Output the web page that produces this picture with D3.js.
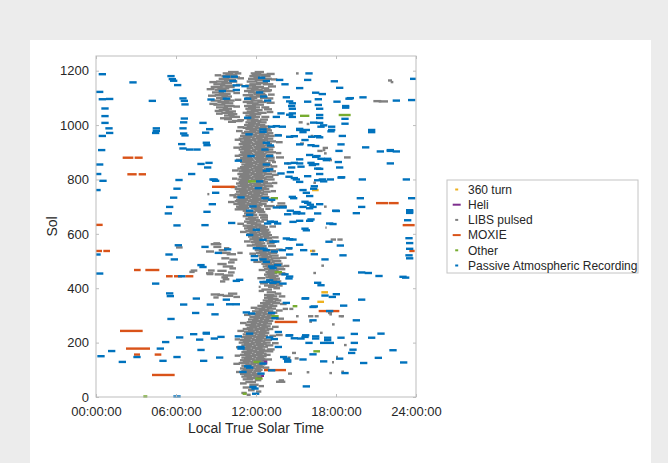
<!DOCTYPE html>
<html>
<head>
<meta charset="utf-8">
<script src="https://cdn.jsdelivr.net/npm/d3@7"></script>
<style>
  body { margin: 0; background: #ececec; }
  #chart { position: absolute; left: 0; top: 0; }
  text { font-family: "Liberation Sans", Arial, Helvetica, sans-serif; fill: #262626; }
</style>
</head>
<body>
<div id="chart"></div>
<script>
// each record: [sol, start hour, end hour] in local true solar time
const turn360 = [[761,16.2,16.7],[537,16.05,16.45],[385,16.9,17.4],[350,16.6,17.1]];

const heli = [[132,12.35,12.85],[124,12.4,12.85],[78,12.1,12.6],[73,12.05,12.45]];

const libs = [
  // central cloud, upper two lobes
  [1195,9.9,10.7],[1195,11.9,12.6],[1190,9.5,10.3],[1190,10.4,10.9],[1190,11.6,12.4],
  [1185,9.7,10.6],[1185,11.7,12.9],[1180,9.4,10.2],[1180,11.5,12.3],[1180,12.4,13.1],
  [1175,9.8,10.8],[1175,11.8,12.6],[1170,9.2,10.0],[1170,11.4,12.2],[1170,12.5,13.2],
  [1165,9.6,10.5],[1165,11.9,12.7],[1160,9.0,9.9],[1160,10.0,10.6],[1160,11.3,12.1],
  [1155,9.4,10.2],[1155,12.0,12.9],[1150,8.8,9.7],[1150,11.5,12.4],[1150,12.5,13.3],
  [1145,9.3,10.3],[1145,11.2,12.0],[1140,8.6,9.5],[1140,9.7,10.4],[1140,11.7,12.6],
  [1135,9.1,10.0],[1135,11.3,12.2],[1135,12.4,13.0],[1130,8.9,9.8],[1130,11.6,12.5],
  [1125,9.5,10.4],[1125,11.1,11.9],[1125,12.2,13.1],[1120,8.7,9.6],[1120,11.4,12.3],
  [1115,9.2,10.1],[1115,11.8,12.7],[1110,8.9,9.9],[1110,11.0,11.8],[1110,12.0,12.8],
  [1105,9.4,10.2],[1105,11.5,12.4],[1100,9.0,9.8],[1100,11.2,12.1],[1100,12.3,12.9],
  [1095,9.3,10.1],[1095,11.1,11.9],[1090,8.6,9.4],[1090,9.6,10.4],[1090,11.6,12.5],
  [1085,9.1,10.0],[1085,11.0,11.8],[1085,12.1,12.8],[1080,9.4,10.3],[1080,11.3,12.2],
  [1075,8.8,9.7],[1075,11.7,12.6],[1070,9.6,10.4],[1070,11.1,12.0],[1065,9.0,9.9],
  [1065,11.4,12.3],[1065,12.4,13.0],[1060,9.5,10.2],[1060,11.2,12.0],[1055,9.2,10.0],
  [1055,11.6,12.5],[1050,9.7,10.5],[1050,11.3,12.2],[1045,9.4,10.3],[1045,11.0,11.9],
  [1045,12.1,12.8],[1040,9.9,10.6],[1040,11.5,12.4],[1035,9.6,10.4],[1035,11.2,12.0],
  [1030,10.0,10.8],[1030,11.4,12.3],[1030,12.4,13.0],[1025,9.3,10.1],[1025,11.1,11.9],
  [1020,11.3,12.2],[1020,12.3,12.9],[1015,10.2,11.0],[1015,11.6,12.4],[1010,11.2,12.0],
  [1010,12.1,12.8],[1005,11.4,12.3],[1000,11.1,11.9],[1000,12.0,12.7],
  [1183,8.9,9.4],[1172,10.6,11.1],[1158,8.5,9.1],[1148,10.5,11.0],[1132,8.3,8.9],
  [1118,10.3,10.8],[1108,8.4,9.0],[1093,10.4,10.9],[1078,8.5,9.1],[1068,10.3,10.8],
  [1052,8.9,9.5],[1042,9.0,9.5],[1188,12.8,13.4],[1168,13.1,13.6],[1142,12.9,13.5],
  [1128,12.6,13.2],[1112,12.9,13.4],[1098,12.9,13.3],[1082,12.8,13.4],[1058,12.6,13.2],
  [1048,12.8,13.3],[1018,10.6,11.1],[1022,9.6,10.2],[1012,9.9,10.5],
  // central cloud, merged band
  [995,11.3,12.2],[995,12.3,13.0],[990,11.0,11.8],[990,11.9,12.8],[985,11.2,12.1],
  [985,12.2,13.1],[980,11.5,12.4],[980,12.5,13.2],[975,11.1,12.0],[975,12.1,12.9],
  [970,10.9,11.8],[970,11.9,12.7],[970,12.8,13.3],[965,11.2,12.1],[965,12.2,13.0],
  [960,10.8,11.7],[960,11.8,12.6],[960,12.7,13.4],[955,11.0,11.9],[955,12.0,12.9],
  [950,10.7,11.6],[950,11.7,12.5],[950,12.6,13.3],[945,11.1,12.0],[945,12.1,12.9],
  [940,10.8,11.7],[940,11.8,12.7],[940,12.8,13.5],[935,10.9,11.8],[935,11.9,12.8],
  [930,10.7,11.6],[930,11.7,12.6],[930,12.7,13.2],[925,11.0,11.9],[925,12.0,12.8],
  [920,10.8,11.7],[920,11.8,12.7],[920,12.8,13.4],[915,10.9,11.8],[915,11.9,12.9],
  [910,10.7,11.6],[910,11.7,12.5],[910,12.6,13.3],[905,11.1,12.0],[905,12.1,13.0],
  [900,10.8,11.7],[900,11.8,12.6],[900,12.7,13.5],[895,10.9,11.8],[895,11.9,12.8],
  [890,10.7,11.6],[890,11.7,12.7],[890,12.8,13.3],[885,11.0,11.9],[885,12.0,12.9],
  [880,10.8,11.7],[880,11.8,12.6],[880,12.7,13.4],[875,10.9,11.8],[875,11.9,12.9],
  [870,11.0,11.9],[870,12.0,12.8],[870,12.9,13.4],[865,10.8,11.7],[865,11.8,12.7],
  [860,11.2,12.1],[860,12.2,13.1],[855,10.9,11.8],[855,11.9,12.8],[850,11.1,12.0],
  [850,12.1,13.0],[845,10.8,11.7],[845,11.8,12.6],[840,10.6,11.5],[840,11.6,12.5],
  [840,12.6,13.3],[835,10.9,11.8],[835,11.9,12.9],[830,10.7,11.6],[830,11.7,12.6],
  [830,12.7,13.5],[825,11.0,11.9],[825,12.0,12.8],[820,10.6,11.5],[820,11.6,12.5],
  [820,12.6,13.2],[815,10.8,11.7],[815,11.8,12.7],[810,10.7,11.6],[810,11.7,12.6],
  [810,12.7,13.3],[805,10.9,11.8],[805,11.9,12.8],[800,10.6,11.5],[800,11.6,12.5],
  [800,12.6,13.4],[795,10.8,11.7],[795,11.8,12.7],[790,10.7,11.6],[790,12.0,12.9],
  [785,10.5,11.4],[785,11.5,12.4],[785,12.5,13.2],[780,10.8,11.7],[780,11.8,12.7],
  [775,10.6,11.5],[775,11.6,12.5],[775,12.6,13.3],[770,10.9,11.8],[770,11.9,12.8],
  [765,10.4,11.3],[765,11.4,12.3],[765,12.4,13.0],[760,10.7,11.6],[760,11.7,12.6],
  [755,10.5,11.4],[755,11.5,12.4],[755,12.5,13.1],[750,10.8,11.7],[750,11.8,12.6],
  [745,10.4,11.3],[745,11.4,12.3],[745,12.4,12.9],[740,10.6,11.5],[740,11.6,12.5],
  [735,10.3,11.2],[735,11.3,12.2],[735,12.3,13.0],[730,10.7,11.6],[730,11.7,12.5],
  [725,10.5,11.4],[725,11.5,12.4],[720,10.4,11.3],[720,11.4,12.2],[720,12.3,12.9],
  [715,10.6,11.5],[715,11.6,12.4],[712,13.6,14.2],[710,10.3,11.2],[710,11.3,12.1],
  [710,12.2,12.8],[705,10.7,11.6],[705,11.7,12.5],[702,12.6,13.4],[702,13.5,14.3],
  [700,10.5,11.4],[700,11.5,12.3],[695,10.6,11.5],[695,11.6,12.4],[690,10.4,11.3],
  [690,11.8,12.6],[685,11.0,11.8],[685,11.9,12.6],[680,11.2,12.0],[680,12.1,12.7],
  [675,11.1,11.9],[670,11.3,12.1],[670,12.2,12.8],[665,11.0,11.8],[660,11.4,12.2],
  [660,12.3,12.9],[655,11.2,12.0],[650,11.5,12.3],[645,11.1,11.9],[645,12.0,12.6],
  [640,11.3,12.1],[635,11.6,12.4],[630,11.0,11.8],[630,11.9,12.7],[625,11.3,12.1],
  [625,12.2,12.9],[620,11.1,11.9],[620,12.0,12.8],[615,11.4,12.2],[615,12.3,13.0],
  [610,11.2,12.0],[610,12.1,12.9],[605,11.5,12.3],[605,12.4,13.1],[600,11.3,12.1],
  [600,12.2,13.0],[595,11.6,12.4],[595,12.5,13.2],[590,11.4,12.2],[590,12.3,13.0],
  [585,11.7,12.5],[585,12.6,13.2],[580,11.5,12.3],[575,11.8,12.6],[575,12.7,13.3],
  [570,11.6,12.4],[565,11.9,12.7],[565,12.8,13.4],[560,11.7,12.5],[555,12.0,12.8],
  [555,12.9,13.5],[550,11.8,12.6],[545,12.1,12.9],[540,11.9,12.7],[540,12.8,13.5],
  [535,12.2,13.0],[530,12.0,12.8],[530,12.9,13.6],[525,12.3,13.1],[520,12.1,12.9],
  [520,13.0,13.7],[515,12.4,13.2],[510,12.2,13.0],[510,13.1,13.8],[505,12.5,13.3],
  [500,12.3,13.1],[500,13.2,13.9],[495,12.6,13.4],[490,12.4,13.2],[490,13.3,14.0],
  [485,12.7,13.5],[480,12.5,13.3],[480,13.4,14.1],[475,12.8,13.6],[470,12.6,13.4],
  [470,13.5,14.2],[465,12.9,13.7],[460,12.7,13.5],[455,12.8,13.6],[455,13.7,14.2],
  [450,12.6,13.4],[445,12.9,13.7],[440,12.7,13.5],[435,13.0,13.8],[430,12.8,13.6],
  [425,13.1,13.9],[415,13.0,13.8],[410,12.6,13.4],[410,13.5,14.0],[405,12.9,13.6],
  [992,10.6,11.1],[978,10.5,11.0],[963,13.4,13.9],[946,10.4,10.9],[937,13.5,14.0],
  [917,10.3,10.8],[897,13.5,13.9],[887,10.4,10.8],[872,10.5,11.0],[848,13.1,13.6],
  [833,10.2,10.7],[817,13.2,13.7],[803,10.2,10.6],[787,13.2,13.6],[772,10.1,10.6],
  [757,13.1,13.5],[742,10.0,10.5],[727,12.5,13.1],[717,9.9,10.4],[692,12.7,13.1],
  [667,12.4,12.9],[652,12.4,12.9],[637,10.6,11.1],[627,13.0,13.5],[607,10.8,11.3],
  [587,13.2,13.7],[572,11.1,11.6],[557,11.3,11.8],[542,13.5,14.0],[527,11.5,12.0],
  [512,13.8,14.3],[497,11.8,12.4],[482,14.1,14.5],[467,12.2,12.7],[452,13.7,14.3],
  [437,12.1,12.7],[418,12.3,12.9],[400,13.3,13.8],[390,12.2,12.6],[380,13.4,13.9],
  // central cloud, lower
  [395,12.4,13.2],[385,12.8,13.5],[375,12.6,13.4],[370,12.8,13.6],[370,13.7,14.2],
  [365,12.6,13.3],[360,12.9,13.7],[355,12.5,13.3],[355,13.4,13.9],[350,12.7,13.5],
  [345,12.3,13.1],[345,13.2,13.8],[340,12.5,13.3],[335,12.1,12.9],[335,13.0,13.6],
  [330,12.4,13.2],[325,11.9,12.7],[325,12.8,13.5],[320,12.2,13.0],[315,11.7,12.5],
  [315,12.6,13.3],[310,12.0,12.8],[310,12.9,13.6],[305,11.6,12.4],[305,12.5,13.2],
  [300,11.9,12.7],[300,12.8,13.4],[295,11.5,12.3],[295,12.4,13.1],[290,11.8,12.6],
  [290,12.7,13.5],[285,11.4,12.2],[285,12.3,13.0],[280,11.7,12.5],[280,12.6,13.3],
  [275,11.3,12.1],[275,12.2,12.9],[270,11.6,12.4],[270,12.5,13.2],[265,11.2,12.0],
  [265,12.1,12.8],[260,11.5,12.3],[260,12.4,13.1],[255,11.3,12.1],[255,12.2,12.9],
  [250,11.0,11.8],[250,11.9,12.7],[250,12.8,13.3],[245,11.4,12.2],[245,12.3,13.0],
  [240,11.1,11.9],[240,12.0,12.8],[235,11.3,12.1],[235,12.2,13.0],[230,11.0,11.8],
  [230,11.9,12.7],[225,11.2,12.0],[225,12.1,12.9],[225,13.0,13.5],[220,10.9,11.7],
  [220,11.8,12.6],[215,11.1,11.9],[215,12.0,12.8],[210,10.8,11.6],[210,11.7,12.5],
  [210,12.6,13.2],[205,11.0,11.8],[205,11.9,12.7],[200,10.7,11.5],[200,11.6,12.4],
  [200,12.5,13.1],[195,11.1,11.9],[195,12.0,12.8],[190,10.9,11.7],[190,11.8,12.6],
  [190,12.7,13.3],[185,11.2,12.0],[185,12.1,12.9],[180,10.8,11.6],[180,11.7,12.5],
  [175,11.0,11.8],[175,11.9,12.7],[175,12.8,13.4],[170,11.3,12.1],[170,12.2,13.0],
  [165,10.9,11.7],[165,11.8,12.6],[160,11.1,11.9],[160,12.0,12.8],[155,10.8,11.6],
  [155,11.7,12.5],[155,12.6,13.1],[150,11.2,12.0],[150,12.1,12.8],[145,10.9,11.7],
  [145,11.8,12.6],[140,11.1,11.9],[140,12.0,12.7],[135,10.8,11.6],[135,11.7,12.5],
  [130,11.0,11.8],[130,11.9,12.6],[125,10.7,11.5],[125,11.6,12.4],[120,11.2,12.0],
  [120,12.1,12.7],[115,10.9,11.7],[115,11.8,12.5],[110,11.1,11.9],[110,12.0,12.6],
  [105,10.8,11.6],[105,11.7,12.4],[100,11.0,11.8],[100,11.9,12.5],[95,10.9,11.7],
  [95,11.8,12.4],[90,11.2,12.0],[85,10.8,11.6],[85,11.7,12.3],[80,11.1,11.9],
  [75,10.9,11.7],[70,11.3,12.1],[65,11.0,11.8],[55,11.2,12.0],[45,11.5,12.2],
  [35,11.0,11.7],[15,10.9,11.3],
  [342,13.8,14.3],[328,11.6,12.1],[318,13.5,14.0],[302,11.1,11.6],[288,13.5,14.1],
  [272,10.8,11.3],[258,13.2,13.7],[243,10.6,11.1],[228,13.5,14.0],[212,10.4,10.8],
  [198,13.2,13.7],[183,10.5,10.9],[168,12.8,13.3],[152,10.4,10.8],[138,12.6,13.2],
  [122,10.3,10.8],[108,12.5,13.0],[92,10.5,11.0],[78,11.8,12.4],[62,11.9,12.4],
  [50,10.8,11.3],[40,12.2,12.6],[25,11.4,11.9],[20,12.0,12.4],[8,11.3,11.6],
  // morning scatter
  [565,8.8,9.3],[562,8.6,9.4],[552,8.8,9.4],[547,9.6,10.0],[535,8.25,8.85],[540,9.2,9.8],
  [530,9.3,10.1],[525,9.8,10.5],[510,9.4,10.0],[505,10.0,10.6],[495,9.9,10.4],[489,9.1,9.8],
  [480,9.5,10.3],[473,10.0,10.5],[464,9.1,9.8],[465,8.4,8.9],[458,9.9,10.4],[451,8.9,9.6],
  [447,9.5,10.3],[440,9.4,9.9],[433,9.5,10.0],[465,7.1,7.6],[455,8.25,8.8],[460,7.0,7.4],
  [452,8.3,8.8],[377,8.6,9.3],[372,9.5,10.3],[380,9.9,10.6],[368,10.3,10.8],[375,9.1,9.6],
  [366,8.8,9.2],[425,9.3,9.7],[530,10.6,11.0],[550,6.0,6.5],
  // afternoon scatter
  [1190,15.0,15.2],[1158,22.1,22.3],[1087,21.2,21.9],[1088,20.8,21.4],[1164,21.9,22.2],
  [960,16.1,16.3],[958,16.6,16.8],[908,17.0,17.2],[896,17.1,17.3],[881,18.6,19.1],
  [871,17.5,17.7],[859,14.3,14.5],[881,13.5,14.1],[864,13.2,13.5],[852,12.8,13.2],
  [746,8.35,8.5],[788,16.3,16.5],[719,13.1,13.3],[700,17.1,17.3],[623,17.2,17.3],
  [579,17.6,18.0],[579,18.1,18.5],[537,16.2,16.4],[483,16.9,17.1],[456,16.3,16.5],
  [405,12.2,12.35],[361,13.0,13.2],[324,14.0,14.4],[324,14.5,14.8],[297,15.0,15.2],
  [297,15.9,16.3],[297,16.4,16.7],[304,17.5,17.7],[297,18.4,18.6],[277,16.0,16.2],
  [267,17.7,17.9],[236,16.8,17.0],[191,18.6,18.8],[147,18.0,18.15],[128,17.7,17.85],
  [91,15.8,16.0],[88,17.5,17.7],[93,18.4,18.6],[86,14.4,14.7],[56,13.5,14.2],
  [61,13.7,14.1],[162,14.7,15.0],[142,14.9,15.2],[145,14.4,14.6],[1010,15.2,15.5],
  [1004,15.8,16.0],[932,15.3,15.6],[905,16.6,17.0],[916,17.0,17.4],[546,14.4,14.7],
  [309,17.4,17.7],[297,18.2,18.5]
];

const moxie = [
  [880,2.0,2.8],[880,2.9,3.5],[819,2.35,3.05],[819,3.2,3.75],[773,8.7,10.4],[633,0.0,0.5],
  [537,0.0,0.45],[537,0.55,1.05],[467,2.85,3.35],[467,3.7,4.75],[444,5.25,5.75],[444,5.85,6.45],
  [444,6.7,7.3],[713,21.0,21.9],[713,21.95,22.7],[632,23.0,23.9],[537,23.5,23.9],[316,16.7,18.25],
  [276,13.4,15.1],[243,1.8,3.5],[178,2.25,4.05],[156,2.85,3.3],[156,4.4,4.9],[81,4.2,5.9],
  [99,12.6,14.25]
];

const other = [
  [1034,15.3,16.0],[1037,18.2,19.1],[793,11.4,12.0],[731,13.1,13.65],[459,13.4,13.95],
  [334,14.75,15.1],[297,13.15,13.7],[168,16.3,16.8],[129,11.8,12.35],[68,11.95,12.5],
  [12,11.0,11.3],[2,3.55,3.85]
];

const passive = [
  // night and morning
  [1187,0.2,0.75],[1157,2.5,3.05],[1180,5.35,5.9],[1169,5.45,6.0],[1163,5.55,6.1],[1147,5.85,6.4],
  [1122,0.0,0.55],[1095,0.2,0.75],[1096,0.75,1.3],[1089,3.95,4.5],[1098,6.25,6.8],[1089,6.35,6.9],
  [1076,6.4,6.95],[1061,0.4,0.95],[1033,0.4,0.95],[1008,0.4,0.95],[988,0.7,1.25],[971,0.75,1.3],
  [960,0.2,0.75],[988,4.25,4.8],[979,4.25,4.8],[971,4.2,4.75],[1024,6.35,6.9],[1010,6.3,6.85],
  [988,6.25,6.8],[969,6.3,6.85],[962,6.4,6.95],[930,6.15,6.7],[914,6.25,6.8],[910,6.75,7.3],
  [910,7.3,7.85],[926,8.05,8.6],[1008,7.75,8.3],[985,8.25,8.8],[972,7.95,8.5],[908,0.15,0.7],
  [855,0.0,0.55],[820,0.0,0.4],[795,0.25,0.8],[761,0.0,0.35],[798,5.95,6.5],[766,5.8,6.35],
  [733,5.55,6.1],[699,5.25,5.8],[675,5.15,5.7],[820,6.9,7.45],[857,7.6,8.15],[844,8.1,8.65],
  [861,8.2,8.75],[800,8.5,9.05],[795,8.7,9.25],[751,8.7,9.25],[709,8.45,9.0],[681,8.05,8.6],
  [632,7.9,8.45],[631,5.8,6.35],[640,9.9,10.45],[524,0.0,0.35],[558,5.9,6.45],[524,5.2,5.75],
  [506,5.6,6.15],[552,7.9,8.45],[530,8.9,9.45],[543,9.6,10.15],[454,0.0,0.55],[417,4.2,4.75],
  [381,5.25,5.8],[371,5.3,5.85],[362,7.25,7.8],[340,6.3,6.85],[287,5.35,5.9],[309,7.2,7.75],
  [340,8.3,8.85],[304,8.65,9.2],[341,9.75,10.3],[341,10.25,10.8],[358,9.5,10.05],[147,2.8,3.35],
  [150,0.1,0.65],[169,0.9,1.45],[129,1.7,2.25],[178,4.55,5.1],[202,4.95,5.5],[147,5.8,6.35],
  [133,4.75,5.3],[231,7.05,7.6],[233,8.0,8.55],[219,6.0,6.55],[211,7.5,8.05],[173,7.6,8.15],
  [215,8.6,9.15],[221,9.1,9.65],[145,9.0,9.55],[133,7.8,8.35],[2,5.8,6.35],[485,7.6,8.15],
  [478,7.75,8.3],[444,6.15,6.7],[236,8.0,8.55],
  // midday, upper
  [1178,9.5,10.05],[1178,10.1,10.65],[1162,10.0,10.55],[1146,10.25,10.8],[1129,10.25,10.8],
  [1125,9.2,9.75],[1094,8.35,8.9],[1097,9.5,10.05],[1143,10.9,11.45],[1174,12.15,12.7],
  [1162,12.5,13.05],[1120,12.0,12.55],[1105,12.3,12.85],[1090,12.6,13.15],[1097,11.1,11.65],
  [1166,13.5,14.05],[1150,13.9,14.45],[1102,14.0,14.55],[1087,14.25,14.8],[1070,14.4,14.95],
  [1060,14.45,15.0],[1136,15.0,15.55],[1030,13.25,13.8],[1043,13.6,14.15],[1038,14.25,14.8],
  [1030,14.45,15.0],[986,15.0,15.55],[1027,11.1,11.65],[984,12.25,12.8],[975,12.25,12.8],
  [962,13.4,13.95],[994,12.9,13.45],[994,13.7,14.25],[935,8.0,8.55],[966,11.2,11.75],
  [935,12.5,13.05],[925,12.8,13.35],[910,12.4,12.95],[886,12.75,13.3],[886,11.35,11.9],
  [929,15.0,15.55],[874,15.0,15.55],[859,14.1,14.65],[861,14.6,15.15],[869,10.4,10.95],
  [855,12.5,13.05],[837,12.75,13.3],
  // afternoon and evening, upper
  [1190,15.7,16.25],[1166,15.6,16.15],[1161,17.6,18.15],[1119,16.2,16.75],[1114,16.7,17.25],
  [1080,14.45,15.0],[1086,15.6,16.15],[1095,16.4,16.95],[1074,16.4,16.95],[1060,16.5,17.05],
  [1086,17.8,18.35],[1137,18.0,18.55],[1097,18.7,19.25],[1102,19.75,20.3],[1070,18.45,19.0],
  [1064,18.45,19.0],[1023,18.4,18.95],[1005,18.4,18.95],[994,17.4,17.95],[960,18.2,18.75],
  [982,20.4,20.95],[974,20.4,20.95],[929,18.1,18.65],[905,17.95,18.5],[918,19.95,20.5],
  [903,21.05,21.6],[905,21.8,22.35],[903,22.25,22.8],[844,18.0,18.55],[808,18.15,18.7],
  [800,17.3,17.85],[800,19.7,20.25],[859,21.8,22.35],[800,23.0,23.55],[731,19.55,20.1],
  [699,19.65,20.2],[731,23.4,23.95],[684,17.75,18.3],[676,19.25,19.8],[687,23.25,23.8],
  [677,23.25,23.8],[636,17.5,18.05],[650,23.1,23.65],[1170,23.55,24.0],[1092,23.4,23.95],
  [1090,22.25,22.8],[1099,18.8,19.35],[1043,14.45,15.0],[1037,16.5,17.05],[1026,16.5,17.05],
  [1008,16.5,17.05],[994,16.6,17.15],[977,17.35,17.9],[982,15.0,15.55],[982,15.5,16.05],
  [974,15.25,15.8],[957,14.25,14.8],[959,14.6,15.15],[996,13.25,13.8],[959,16.35,16.9],
  [955,16.5,17.05],[926,15.85,16.4],[923,16.2,16.75],[890,15.75,16.3],[883,16.2,16.75],
  [859,15.0,15.55],[847,15.1,15.65],[844,14.4,14.95],[861,15.85,16.4],[853,15.95,16.5],
  [840,16.35,16.9],[871,17.0,17.55],[822,13.6,14.15],[812,15.6,16.15],[800,14.75,15.3],
  [791,15.0,15.55],[797,16.35,16.9],[800,16.7,17.25],[807,18.1,18.65],[761,15.25,15.8],
  [739,15.75,16.3],[718,15.4,15.95],[714,15.6,16.15],[699,13.75,14.3],[699,15.25,15.8],
  [699,16.0,16.55],[685,17.7,18.25],[675,16.35,16.9],[672,14.1,14.65],[675,14.75,15.3],
  [675,15.15,15.7],[644,14.5,15.05],[648,15.0,15.55],[648,15.75,16.3],[638,12.6,13.15],
  [644,13.1,13.65],[638,13.35,13.9],[638,17.25,17.8],[999,16.8,17.35],[982,17.4,17.95],
  [1009,16.05,16.6],[945,15.4,15.95],[957,15.9,16.45],[908,21.8,22.35],[886,16.3,16.85],
  [876,16.6,17.15],[876,17.1,17.65],[856,16.2,16.75],[839,16.5,17.05],[864,17.9,18.45],
  [827,14.3,14.85],[820,16.5,17.05],[793,16.8,17.35],[775,16.1,16.65],[766,16.05,16.6],
  [751,15.5,16.05],[736,14.45,15.0],[731,14.55,15.1],[707,15.8,16.35],[694,15.75,16.3],
  [709,16.5,17.05],[682,23.25,23.8],[653,15.85,16.4],
  // afternoon and evening, lower
  [540,15.3,15.85],[525,16.1,16.65],[571,17.2,17.75],[557,18.05,18.6],[521,18.25,18.8],
  [506,16.9,17.45],[584,23.2,23.75],[566,23.25,23.8],[545,23.25,23.8],[521,23.2,23.75],
  [510,23.25,23.8],[458,19.65,20.2],[456,20.15,20.7],[445,20.95,21.5],[442,22.75,23.3],
  [439,22.95,23.5],[420,16.35,16.9],[411,16.6,17.15],[362,15.4,15.95],[378,17.75,18.3],
  [368,17.45,18.0],[358,19.65,20.2],[336,18.3,18.85],[331,16.0,16.55],[316,17.25,17.8],
  [282,19.25,19.8],[282,16.0,16.55],[227,15.45,16.0],[223,16.2,16.75],[215,16.2,16.75],
  [218,17.1,17.65],[209,17.1,17.65],[218,18.1,18.65],[232,19.1,19.65],[218,20.4,20.95],
  [233,21.1,21.65],[215,15.1,15.65],[199,15.7,16.25],[199,16.8,17.35],[199,19.1,19.65],
  [174,19.0,19.55],[157,16.0,16.55],[141,18.0,18.55],[131,16.8,17.35],[138,15.25,15.8],
  [125,19.8,20.35],[144,20.9,21.45],[172,22.0,22.55],[127,22.8,23.35],[88,18.4,18.95],
  [39,15.5,16.05],[162,18.9,19.45],[583,14.0,14.55],[579,14.5,15.05],[613,15.5,16.05],
  [524,14.25,14.8],[571,13.0,13.55],[546,12.25,12.8],[540,12.5,13.05],[518,11.6,12.15],
  [506,12.25,12.8],[497,12.5,13.05],[485,13.35,13.9],[436,14.2,14.75],[423,13.25,13.8],
  [417,13.75,14.3],[423,12.25,12.8],[429,12.75,13.3],[619,15.4,15.95],[572,13.2,13.75],
  [547,14.2,14.75],[373,16.9,17.45],[333,16.1,16.65],[363,15.45,16.0],[346,14.0,14.55],
  [239,13.4,13.95],[226,14.2,14.75],[221,15.4,15.95],[216,14.6,15.15],[199,17.3,17.85],
  [130,14.1,14.65],[147,13.8,14.35],[12,11.7,12.25],
  // midday, lower
  [427,10.25,10.8],[423,12.5,13.05],[420,13.0,13.55],[311,11.0,11.55],[307,11.4,11.95],
  [309,12.9,13.45],[290,13.15,13.7],[233,11.25,11.8],[223,10.4,10.95],[219,12.75,13.3],
  [213,13.1,13.65],[227,14.25,14.8],[184,10.6,11.15],[178,10.6,11.15],[184,13.4,13.95],
  [113,11.1,11.65],[108,11.25,11.8],[123,12.25,12.8],[141,14.0,14.55],[135,14.1,14.65],
  [86,12.1,12.65],[98,12.9,13.45],[92,10.75,11.3],[37,11.5,12.05],[31,11.65,12.2],
  [799,8.6,9.15],[832,12.5,13.05],[810,14.2,14.75],[805,14.6,15.15],[793,12.0,12.55],
  [768,11.9,12.45],[734,10.6,11.15],[731,12.4,12.95],[725,12.9,13.45],[701,11.5,12.05],
  [685,11.25,11.8],[697,13.25,13.8],[697,13.75,14.3],[685,14.3,14.85],[680,14.8,15.35],
  [670,11.25,11.8],[645,12.8,13.35],[615,11.75,12.3],[596,11.25,11.8],[578,12.25,12.8],
  [580,14.25,14.8],[547,11.75,12.3],[504,11.6,12.15],[480,12.9,13.45],[474,13.0,13.55],
  [431,10.5,11.05],[451,13.9,14.45],[443,14.25,14.8],[535,13.1,13.65],[540,13.7,14.25],
  [560,15.0,15.55]
];

const seriesNames = ["360 turn", "Heli", "LIBS pulsed", "MOXIE", "Other", "Passive Atmospheric Recording"];
const seriesColors = ["#edb120", "#7e2f8e", "#808080", "#d95319", "#77ac30", "#0072bd"];
const legendSample = [3, 8, 3, 8, 3, 3];
const hourTicks = [0, 6, 12, 18, 24];
const solTicks = [0, 200, 400, 600, 800, 1000, 1200];

const W = 668, H = 463;
const plot = { left: 96, right: 416, top: 56, bottom: 397 };

const svg = d3.select("#chart").append("svg").attr("width", W).attr("height", H);

// white card on grey page
svg.append("rect").attr("x", 30).attr("y", 40).attr("width", 621).attr("height", H - 40).attr("fill", "#fff");

const x = d3.scaleLinear().domain([0, 24]).range([plot.left, plot.right]);
const y = d3.scaleLinear().domain([0, 1254]).range([plot.bottom, plot.top]);

const plotArea = svg.append("g");

const allSeries = [turn360, heli, libs, moxie, other, passive];
allSeries.forEach((rows, i) => {
  plotArea.append("g")
    .selectAll("line")
    .data(rows)
    .join("line")
    .attr("x1", d => x(d[1]))
    .attr("x2", d => x(d[2]))
    .attr("y1", d => y(d[0]))
    .attr("y2", d => y(d[0]))
    .attr("stroke", seriesColors[i])
    .attr("stroke-width", 2.4);
});

// axes, ticks pointing inward on all four sides
const fmt = h => `${String(h).padStart(2, "0")}:00:00`;
const axisStyle = g => {
  g.select(".domain").remove();
  g.selectAll(".tick line").attr("stroke", "#bdbdbd");
  g.selectAll(".tick text").attr("fill", "#262626").style("font-size", "13px")
    .style("font-family", '"Liberation Sans", Arial, sans-serif');
};

svg.append("g").attr("transform", `translate(0,${plot.bottom})`)
  .call(d3.axisBottom(x).tickValues(hourTicks).tickFormat(fmt).tickSize(-3).tickPadding(10))
  .call(axisStyle);
svg.append("g").attr("transform", `translate(0,${plot.top})`)
  .call(d3.axisTop(x).tickValues(hourTicks).tickFormat("").tickSize(-3))
  .call(axisStyle);
svg.append("g").attr("transform", `translate(${plot.left},0)`)
  .call(d3.axisLeft(y).tickValues(solTicks).tickFormat(d3.format("d")).tickSize(-3).tickPadding(7))
  .call(axisStyle);
svg.append("g").attr("transform", `translate(${plot.right},0)`)
  .call(d3.axisRight(y).tickValues(solTicks).tickFormat("").tickSize(-3))
  .call(axisStyle);

svg.append("rect")
  .attr("x", plot.left).attr("y", plot.top)
  .attr("width", plot.right - plot.left).attr("height", plot.bottom - plot.top)
  .attr("fill", "none").attr("stroke", "#bdbdbd").attr("stroke-width", 1);

svg.append("text")
  .attr("x", (plot.left + plot.right) / 2).attr("y", 433)
  .attr("text-anchor", "middle").style("font-size", "14px")
  .text("Local True Solar Time");

svg.append("text")
  .attr("transform", `translate(57,${(plot.top + plot.bottom) / 2}) rotate(-90)`)
  .attr("text-anchor", "middle").style("font-size", "14px")
  .text("Sol");

// legend
const legend = svg.append("g").attr("transform", "translate(447,180)");
legend.append("rect").attr("width", 191).attr("height", 93)
  .attr("fill", "#fff").attr("stroke", "#c4c4c4");
seriesNames.forEach((name, i) => {
  const cy = 9.5 + i * 15.2;
  legend.append("line")
    .attr("x1", 9.7 - legendSample[i] / 2).attr("x2", 9.7 + legendSample[i] / 2)
    .attr("y1", cy).attr("y2", cy)
    .attr("stroke", seriesColors[i]).attr("stroke-width", 2);
  legend.append("text")
    .attr("x", 21).attr("y", cy).attr("dy", "0.35em")
    .style("font-size", "12px")
    .text(name);
});
</script>
</body>
</html>
